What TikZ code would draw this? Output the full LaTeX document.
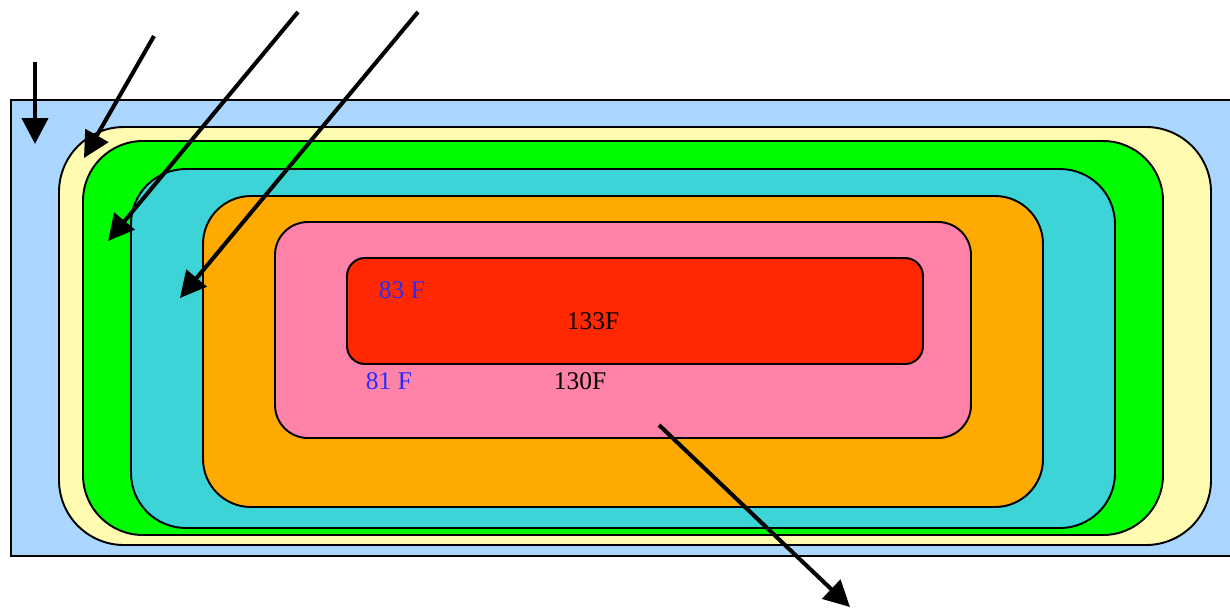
\documentclass[tikz,border=0pt]{standalone}
\usepackage{fontspec}
\setmainfont{Liberation Serif}
\usetikzlibrary{arrows.meta}
\definecolor{sky}{RGB}{170,214,255}
\definecolor{cream}{RGB}{255,251,176}
\definecolor{lime}{RGB}{0,252,0}
\definecolor{teal}{RGB}{60,212,214}
\definecolor{amber}{RGB}{255,170,0}
\definecolor{rose}{RGB}{255,130,168}
\definecolor{flame}{RGB}{255,40,0}
\definecolor{ink}{RGB}{40,45,255}
\tikzset{
  layer/.style={draw=black,fill=#1,line width=1.1pt},
  ray/.style={-{Triangle[length=5.2mm,width=5.2mm]},line width=2.3pt,draw=black},
  temp/.style={font=\fontsize{14.5}{16}\selectfont,inner sep=0pt,text=#1},
  temp/.default=black,
}
\begin{document}
\begin{tikzpicture}[x=0.02cm,y=-0.02cm]
  \clip (0,0) rectangle (1230,610);
  \fill[white] (0,0) rectangle (1230,610);
  % layers, outside in
  \filldraw[layer=sky] (11,100) rectangle (1240,556);
  \foreach \xa/\ya/\xb/\yb/\r/\c in {59/127/1211/545/1.3/cream,83/141/1163/535/1.2/lime,
    131/169/1115/528/1.1/teal,203/196/1043/507/0.96/amber,275/222/971/438/0.66/rose,347/258/923/364/0.36/flame}
    \filldraw[layer=\c,rounded corners=\r cm] (\xa,\ya) rectangle (\xb,\yb);
  % temperatures
  \node[temp=ink] (t83) at (402,290) {83 F};
  \node[temp] (t133) at (593,321) {133F};
  \node[temp=ink] (t81) at (389,381) {81 F};
  \node[temp] (t130) at (580,381) {130F};
  % arrows
  \foreach \sx/\sy/\ex/\ey [count=\i] in {35/62/35/144,154/36/84/158,298/12/108/241,418/12/180/298,659/425/850/607}{
    \coordinate (s\i) at (\sx,\sy);
    \coordinate (e\i) at (\ex,\ey);
    \draw[ray] (s\i) -- (e\i);
  }
\end{tikzpicture}
\end{document}
